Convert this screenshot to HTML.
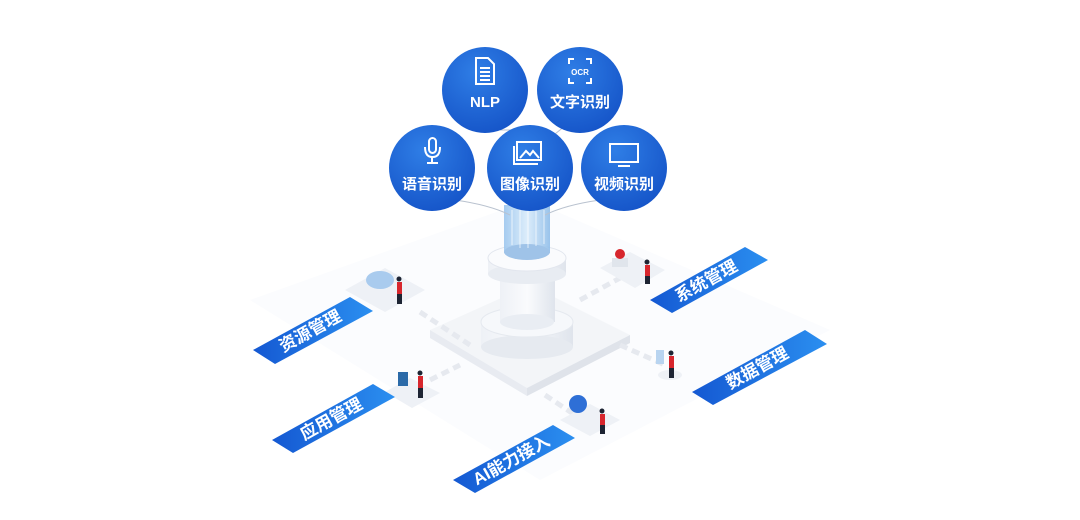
<!DOCTYPE html>
<html><head><meta charset="utf-8"><style>
html,body{margin:0;padding:0;background:#fff;}
svg{display:block}
.t{font-family:"Liberation Sans","Noto Sans CJK SC",sans-serif;font-weight:bold;fill:#fff;}
</style></head><body>
<svg width="1080" height="520" viewBox="0 0 1080 520" xmlns="http://www.w3.org/2000/svg">
<defs>
<radialGradient id="cg" cx="40%" cy="30%" r="75%">
<stop offset="0" stop-color="#2f7ee6"/><stop offset="1" stop-color="#1554c8"/></radialGradient>
<linearGradient id="bg" x1="0" y1="0" x2="1" y2="0">
<stop offset="0" stop-color="#1458d2"/><stop offset="1" stop-color="#2b8ff0"/></linearGradient>
<linearGradient id="gl" x1="0" y1="0" x2="1" y2="0">
<stop offset="0" stop-color="#9cc6ee"/><stop offset="0.5" stop-color="#d8ebfa"/><stop offset="1" stop-color="#8fbde9"/></linearGradient>
<linearGradient id="col" x1="0" y1="0" x2="1" y2="0">
<stop offset="0" stop-color="#eef1f6"/><stop offset="0.5" stop-color="#fafbfd"/><stop offset="1" stop-color="#dfe4ec"/></linearGradient>
</defs>
<polygon points="250,300 530,200 830,330 540,480" fill="#fbfcfe"/>
<polygon points="430,330 530,285 630,335 527,388" fill="#f3f5f8"/>
<polygon points="430,330 527,388 527,396 430,338" fill="#e8ebf1"/>
<polygon points="527,388 630,335 630,343 527,396" fill="#dfe3ea"/>
<g stroke="#e6e9ef" stroke-width="5" stroke-dasharray="8 5">
<line x1="420" y1="312" x2="470" y2="345"/><line x1="430" y1="380" x2="460" y2="365"/>
<line x1="580" y1="300" x2="620" y2="278"/><line x1="620" y1="345" x2="665" y2="365"/>
<line x1="545" y1="395" x2="575" y2="415"/></g>
<rect x="481" y="322" width="92" height="25" fill="url(#col)"/>
<ellipse cx="527" cy="347" rx="46" ry="12" fill="#e6eaf0"/>
<ellipse cx="527" cy="322" rx="46" ry="15" fill="#f6f8fb" stroke="#e5e9ef"/>
<rect x="500" y="272" width="55" height="50" fill="url(#col)"/>
<ellipse cx="527" cy="322" rx="27" ry="8" fill="#e9edf3"/>
<rect x="488" y="258" width="78" height="16" fill="url(#col)"/>
<ellipse cx="527" cy="274" rx="39" ry="10" fill="#e8ecf2"/>
<ellipse cx="527" cy="258" rx="39" ry="13" fill="#fafbfd" stroke="#e2e6ee"/>
<rect x="504" y="205" width="46" height="48" fill="url(#gl)" opacity="0.9"/>
<ellipse cx="527" cy="252" rx="23" ry="8" fill="#9fc3e8"/>
<g stroke="#ffffff" stroke-width="1" opacity="0.7">
<line x1="512" y1="210" x2="512" y2="245"/><line x1="520" y1="210" x2="520" y2="248"/><line x1="528" y1="210" x2="528" y2="248"/><line x1="536" y1="210" x2="536" y2="246"/><line x1="544" y1="210" x2="544" y2="244"/></g>
<g stroke="#b9c2cf" stroke-width="1" fill="none">
<path d="M455,200 Q490,205 510,215"/><path d="M600,200 Q565,205 545,215"/>
<line x1="500" y1="130" x2="512" y2="130"/><line x1="565" y1="126" x2="555" y2="134"/>
</g>
<polygon points="345,290 385,268 425,290 385,312" fill="#eef1f6"/>
<ellipse cx="380" cy="280" rx="14" ry="9" fill="#a9cbee"/>
<polygon points="600,268 630,252 665,270 635,288" fill="#eef1f6"/>
<rect x="612" y="258" width="16" height="9" fill="#e0e5ec"/>
<circle cx="620" cy="254" r="5" fill="#d7262d"/>
<polygon points="385,392 410,378 440,393 412,408" fill="#eef1f6"/>
<rect x="398" y="372" width="10" height="14" fill="#2b6aa8"/>
<polygon points="560,420 590,404 620,420 590,436" fill="#eef1f6"/>
<circle cx="578" cy="404" r="9" fill="#2e6fd6"/>
<ellipse cx="670" cy="375" rx="12" ry="5" fill="#eef1f6"/>
<rect x="656" y="350" width="8" height="14" fill="#b8d4f0"/>
<g fill="#d7262d">
<rect x="397" y="282" width="5" height="12"/><rect x="645" y="265" width="5" height="11"/>
<rect x="418" y="376" width="5" height="12"/><rect x="600" y="414" width="5" height="11"/>
<rect x="669" y="356" width="5" height="12"/></g>
<g fill="#1d2433">
<rect x="397" y="294" width="5" height="10"/><rect x="645" y="276" width="5" height="8"/>
<rect x="418" y="388" width="5" height="10"/><rect x="600" y="425" width="5" height="9"/>
<rect x="669" y="368" width="5" height="10"/>
<circle cx="399" cy="279" r="2.5"/><circle cx="647" cy="262" r="2.5"/><circle cx="420" cy="373" r="2.5"/><circle cx="602" cy="411" r="2.5"/><circle cx="671" cy="353" r="2.5"/></g>
<g fill="url(#cg)">
<circle cx="485" cy="90" r="43"/><circle cx="580" cy="90" r="43"/>
<circle cx="432" cy="168" r="43"/><circle cx="530" cy="168" r="43"/><circle cx="624" cy="168" r="43"/></g>
<g stroke="#fff" stroke-width="2" fill="none">
<path d="M476,58 h12 l6,6 v20 h-18 z"/><line x1="480" y1="68" x2="490" y2="68"/><line x1="480" y1="72" x2="490" y2="72"/><line x1="480" y1="76" x2="490" y2="76"/><line x1="480" y1="80" x2="490" y2="80"/>
<path d="M569,64 v-5 h5 M586,59 h5 v5 M591,78 v5 h-5 M574,83 h-5 v-5"/>
<rect x="429" y="138" width="7" height="15" rx="3.5"/><path d="M425,147 q0,10 7.5,10 q7.5,0 7.5,-10"/><line x1="432" y1="157" x2="432" y2="162"/><line x1="427" y1="163" x2="438" y2="163"/>
<rect x="517" y="142" width="24" height="18"/><path d="M514,146 v18 h24"/><path d="M520,158 l6,-7 l4,4 l3,-4 l6,7"/>
<rect x="610" y="144" width="28" height="18"/><line x1="618" y1="166" x2="630" y2="166"/>
</g>
<text x="580" y="75" class="t" font-size="8" text-anchor="middle">OCR</text>
<g class="t" font-size="15" text-anchor="middle">
<text x="485" y="107">NLP</text><text x="580" y="107">文字识别</text>
<text x="432" y="189">语音识别</text><text x="530" y="189">图像识别</text><text x="624" y="189">视频识别</text></g>
<g fill="url(#bg)">
<polygon points="253,350 350,297 373,311 275,364"/>
<polygon points="650,300 745,247 768,260 672,313"/>
<polygon points="692,392 805,330 827,344 713,405"/>
<polygon points="272,440 373,384 395,397 293,453"/>
<polygon points="453,480 553,425 575,438 475,493"/></g>
<g class="t" font-size="17" text-anchor="middle">
<text transform="translate(313,336) rotate(-29)">资源管理</text>
<text transform="translate(709,286) rotate(-29)">系统管理</text>
<text transform="translate(760,373) rotate(-29)">数据管理</text>
<text transform="translate(334,424) rotate(-29)">应用管理</text>
<text transform="translate(514,465) rotate(-29)">AI能力接入</text></g>
</svg>
</body></html>
